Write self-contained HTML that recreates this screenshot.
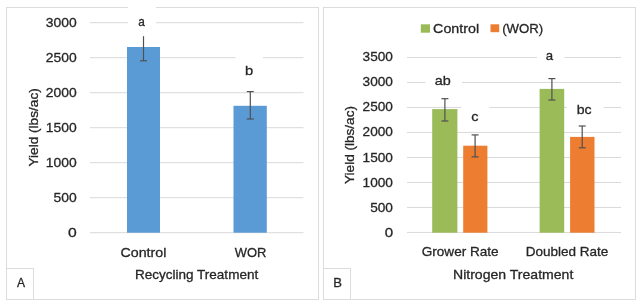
<!DOCTYPE html>
<html><head><meta charset="utf-8">
<style>
html,body{margin:0;padding:0;background:#fff;width:640px;height:306px;overflow:hidden}
svg{display:block}
#w{width:640px;height:306px;will-change:transform}
text{font-family:"Liberation Sans",sans-serif;fill:#262626;stroke:#262626;stroke-width:0.3px}
</style></head><body><div id="w">
<svg width="640" height="306" viewBox="0 0 640 306">
<rect x="0" y="0" width="640" height="306" fill="#fff"/>
<rect x="6.5" y="7.5" width="312" height="292" fill="none" stroke="#dcdcdc"/>
<rect x="323.5" y="7.5" width="312" height="292" fill="none" stroke="#dcdcdc"/>
<line x1="90" x2="303.5" y1="22.7" y2="22.7" stroke="#d9d9d9"/>
<line x1="90" x2="303.5" y1="57.7" y2="57.7" stroke="#d9d9d9"/>
<line x1="90" x2="303.5" y1="92.7" y2="92.7" stroke="#d9d9d9"/>
<line x1="90" x2="303.5" y1="127.7" y2="127.7" stroke="#d9d9d9"/>
<line x1="90" x2="303.5" y1="162.7" y2="162.7" stroke="#d9d9d9"/>
<line x1="90" x2="303.5" y1="197.7" y2="197.7" stroke="#d9d9d9"/>
<line x1="90" x2="303.5" y1="232.7" y2="232.7" stroke="#d9d9d9"/>
<line x1="407" x2="621" y1="57.45" y2="57.45" stroke="#d9d9d9"/>
<line x1="407" x2="621" y1="82.45" y2="82.45" stroke="#d9d9d9"/>
<line x1="407" x2="621" y1="107.45" y2="107.45" stroke="#d9d9d9"/>
<line x1="407" x2="621" y1="132.45" y2="132.45" stroke="#d9d9d9"/>
<line x1="407" x2="621" y1="157.45" y2="157.45" stroke="#d9d9d9"/>
<line x1="407" x2="621" y1="182.45" y2="182.45" stroke="#d9d9d9"/>
<line x1="407" x2="621" y1="207.45" y2="207.45" stroke="#d9d9d9"/>
<line x1="407" x2="621" y1="232.45" y2="232.45" stroke="#d9d9d9"/>
<rect x="127" y="47" width="33.00" height="185.70" fill="#5b9bd5"/>
<rect x="233.5" y="105.8" width="33.30" height="126.90" fill="#5b9bd5"/>
<rect x="432.2" y="109.1" width="25.20" height="123.60" fill="#9bbb59"/>
<rect x="463.2" y="145.7" width="24.20" height="87.00" fill="#ed7d31"/>
<rect x="539.6" y="88.9" width="24.60" height="143.80" fill="#9bbb59"/>
<rect x="570.1" y="136.9" width="24.40" height="95.80" fill="#ed7d31"/>
<line x1="143.5" x2="143.5" y1="30" y2="60.8" stroke="#505050" stroke-width="1.2"/>
<line x1="140.0" x2="147.0" y1="30" y2="30" stroke="#505050" stroke-width="1.2"/>
<line x1="140.0" x2="147.0" y1="60.8" y2="60.8" stroke="#505050" stroke-width="1.2"/>
<line x1="250.3" x2="250.3" y1="91.6" y2="119" stroke="#505050" stroke-width="1.2"/>
<line x1="246.8" x2="253.8" y1="91.6" y2="91.6" stroke="#505050" stroke-width="1.2"/>
<line x1="246.8" x2="253.8" y1="119" y2="119" stroke="#505050" stroke-width="1.2"/>
<line x1="444.9" x2="444.9" y1="98.7" y2="121" stroke="#505050" stroke-width="1.2"/>
<line x1="441.4" x2="448.4" y1="98.7" y2="98.7" stroke="#505050" stroke-width="1.2"/>
<line x1="441.4" x2="448.4" y1="121" y2="121" stroke="#505050" stroke-width="1.2"/>
<line x1="475.1" x2="475.1" y1="134.9" y2="156.9" stroke="#505050" stroke-width="1.2"/>
<line x1="471.6" x2="478.6" y1="134.9" y2="134.9" stroke="#505050" stroke-width="1.2"/>
<line x1="471.6" x2="478.6" y1="156.9" y2="156.9" stroke="#505050" stroke-width="1.2"/>
<line x1="551.9" x2="551.9" y1="78.6" y2="100" stroke="#505050" stroke-width="1.2"/>
<line x1="548.4" x2="555.4" y1="78.6" y2="78.6" stroke="#505050" stroke-width="1.2"/>
<line x1="548.4" x2="555.4" y1="100" y2="100" stroke="#505050" stroke-width="1.2"/>
<line x1="582.2" x2="582.2" y1="126" y2="147.8" stroke="#505050" stroke-width="1.2"/>
<line x1="578.7" x2="585.7" y1="126" y2="126" stroke="#505050" stroke-width="1.2"/>
<line x1="578.7" x2="585.7" y1="147.8" y2="147.8" stroke="#505050" stroke-width="1.2"/>
<rect x="128" y="6.90" width="28.00" height="29.3" fill="#fff"/>
<rect x="235.6" y="56.40" width="27.30" height="29.3" fill="#fff"/>
<rect x="425.5" y="66.20" width="36.50" height="29.3" fill="#fff"/>
<rect x="461.4" y="102.00" width="27.90" height="29.3" fill="#fff"/>
<rect x="537" y="41.40" width="27.50" height="29.3" fill="#fff"/>
<rect x="567" y="95.00" width="36.60" height="29.3" fill="#fff"/>
<rect x="6.5" y="268.5" width="27" height="31" fill="none" stroke="#dcdcdc"/>
<rect x="323.5" y="268.5" width="27" height="31" fill="none" stroke="#dcdcdc"/>
<text x="17.00" y="287.20" textLength="8.03" lengthAdjust="spacingAndGlyphs" style="font-size:13.5px" >A</text>
<text x="333.27" y="287.20" textLength="8.72" lengthAdjust="spacingAndGlyphs" style="font-size:13.5px" >B</text>
<text x="45.85" y="26.90" textLength="30.89" lengthAdjust="spacingAndGlyphs" style="font-size:13.5px" >3000</text>
<text x="45.85" y="61.92" textLength="30.89" lengthAdjust="spacingAndGlyphs" style="font-size:13.5px" >2500</text>
<text x="45.85" y="96.93" textLength="30.89" lengthAdjust="spacingAndGlyphs" style="font-size:13.5px" >2000</text>
<text x="45.85" y="131.95" textLength="30.89" lengthAdjust="spacingAndGlyphs" style="font-size:13.5px" >1500</text>
<text x="45.85" y="166.97" textLength="30.89" lengthAdjust="spacingAndGlyphs" style="font-size:13.5px" >1000</text>
<text x="53.59" y="201.98" textLength="23.17" lengthAdjust="spacingAndGlyphs" style="font-size:13.5px" >500</text>
<text x="68.14" y="237.00" textLength="8.72" lengthAdjust="spacingAndGlyphs" style="font-size:13.5px" >0</text>
<text x="362.61" y="61.06" textLength="30.32" lengthAdjust="spacingAndGlyphs" style="font-size:13.5px" >3500</text>
<text x="362.61" y="86.18" textLength="30.32" lengthAdjust="spacingAndGlyphs" style="font-size:13.5px" >3000</text>
<text x="362.61" y="111.30" textLength="30.32" lengthAdjust="spacingAndGlyphs" style="font-size:13.5px" >2500</text>
<text x="362.61" y="136.42" textLength="30.32" lengthAdjust="spacingAndGlyphs" style="font-size:13.5px" >2000</text>
<text x="362.61" y="161.54" textLength="30.32" lengthAdjust="spacingAndGlyphs" style="font-size:13.5px" >1500</text>
<text x="362.61" y="186.66" textLength="30.32" lengthAdjust="spacingAndGlyphs" style="font-size:13.5px" >1000</text>
<text x="370.21" y="211.78" textLength="22.74" lengthAdjust="spacingAndGlyphs" style="font-size:13.5px" >500</text>
<text x="384.66" y="236.90" textLength="8.37" lengthAdjust="spacingAndGlyphs" style="font-size:13.5px" >0</text>
<text x="138.29" y="26.10" textLength="6.60" lengthAdjust="spacingAndGlyphs" style="font-size:13.5px" >a</text>
<text x="244.96" y="75.40" textLength="8.16" lengthAdjust="spacingAndGlyphs" style="font-size:13.5px" >b</text>
<text x="434.78" y="85.20" textLength="16.01" lengthAdjust="spacingAndGlyphs" style="font-size:13.5px" >ab</text>
<text x="471.28" y="121.00" textLength="7.23" lengthAdjust="spacingAndGlyphs" style="font-size:13.5px" >c</text>
<text x="545.63" y="60.40" textLength="7.35" lengthAdjust="spacingAndGlyphs" style="font-size:13.5px" >a</text>
<text x="576.69" y="114.00" textLength="14.90" lengthAdjust="spacingAndGlyphs" style="font-size:13.5px" >bc</text>
<text x="120.49" y="256.90" textLength="45.86" lengthAdjust="spacingAndGlyphs" style="font-size:13.5px" >Control</text>
<text x="234.81" y="256.60" textLength="31.65" lengthAdjust="spacingAndGlyphs" style="font-size:13.5px" >WOR</text>
<text x="134.94" y="278.70" textLength="123.27" lengthAdjust="spacingAndGlyphs" style="font-size:13.5px" >Recycling Treatment</text>
<text x="421.72" y="256.20" textLength="76.92" lengthAdjust="spacingAndGlyphs" style="font-size:13.5px" >Grower Rate</text>
<text x="525.74" y="256.10" textLength="82.65" lengthAdjust="spacingAndGlyphs" style="font-size:13.5px" >Doubled Rate</text>
<text x="453.00" y="278.70" textLength="120.34" lengthAdjust="spacingAndGlyphs" style="font-size:13.5px" >Nitrogen Treatment</text>
<text transform="translate(37.70 166.59) rotate(-90)" x="0" y="0" textLength="78.37" lengthAdjust="spacingAndGlyphs" style="font-size:13px">Yield (lbs/ac)</text>
<text transform="translate(354.20 183.99) rotate(-90)" x="0" y="0" textLength="77.96" lengthAdjust="spacingAndGlyphs" style="font-size:13px">Yield (lbs/ac)</text>
<rect x="420.8" y="24.3" width="9.2" height="8.4" fill="#9bbb59"/>
<rect x="490.5" y="24.3" width="8.7" height="7.9" fill="#ed7d31"/>
<text x="433.09" y="32.50" textLength="46.06" lengthAdjust="spacingAndGlyphs" style="font-size:13.5px" >Control</text>
<text x="502.15" y="32.50" textLength="41.04" lengthAdjust="spacingAndGlyphs" style="font-size:13.5px" >(WOR)</text>
</svg></div>
</body></html>
